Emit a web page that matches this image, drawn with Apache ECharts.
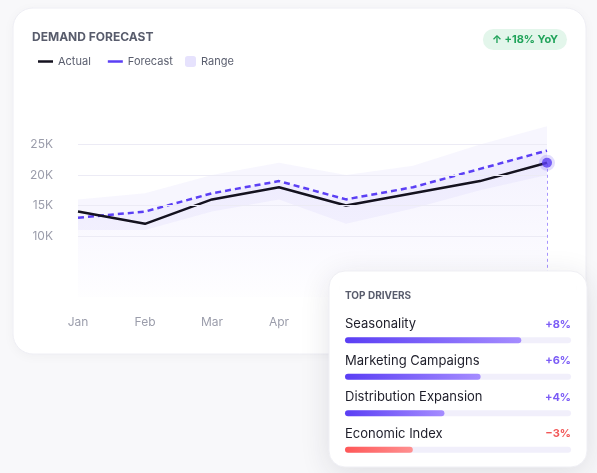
<!DOCTYPE html>
<html>
<head>
<meta charset="utf-8">
<script src="https://cdn.jsdelivr.net/npm/echarts@6/dist/echarts.min.js"></script>
<style>
  html, body { margin: 0; padding: 0; background: #f8f8fa; }
  #chart { width: 597px; height: 473px; }
</style>
</head>
<body>
<div id="chart"></div>
<script>
const months = ["Jan", "Feb", "Mar", "Apr", "May", "Jun", "Jul", "Aug"];
const actual = [14000, 12000, 16000, 18000, 15000, 17000, 19000, 22000];
const forecast = [13000, 14000, 17000, 19000, 16000, 18000, 21000, 24000];
const rangeLow = [11000, 11000, 14000, 16000, 12000, 14500, 17500, 20000];
const rangeHigh = [16000, 17000, 20000, 22000, 20000, 21500, 25000, 28000];
const yTicksShown = [10000, 15000, 20000, 25000];

const drivers = ["Seasonality", "Marketing Campaigns", "Distribution Expansion", "Economic Index"];
const driverDelta = [8, 6, 4, -3];
const driverBar = [78, 60, 44, 30];

const FONT = "Inter";
const last = months.length - 1;
const purple = "#5b3ff5";

const chart = echarts.init(document.getElementById("chart"));

const fillGrad = neg => new echarts.graphic.LinearGradient(0, 0, 1, 0, neg
  ? [{ offset: 0, color: "#ff5757" }, { offset: 1, color: "#ff9090" }]
  : [{ offset: 0, color: "#5a3ef4" }, { offset: 1, color: "#a58cff" }]);

chart.setOption({
  animation: false,
  textStyle: { fontFamily: FONT },
  graphic: [
    {
      type: "rect", z: -10,
      shape: { x: 13, y: 8, width: 573, height: 346, r: 20 },
      style: { fill: "#fff", stroke: "#eeeef4", lineWidth: 1, shadowBlur: 12, shadowColor: "rgba(30,30,60,0.04)", shadowOffsetY: 2 }
    },
    {
      type: "rect", z: 20,
      shape: { x: 329, y: 271, width: 258, height: 196, r: 16 },
      style: { fill: "#fff", stroke: "#efeff4", lineWidth: 1, shadowBlur: 30, shadowColor: "rgba(30,30,60,0.12)", shadowOffsetY: 6 }
    }
  ],
  title: [
    {
      text: "DEMAND FORECAST", left: 32, top: 31, padding: 0,
      textStyle: { fontSize: 12, fontWeight: 700, color: "#585c6c", fontFamily: FONT }
    },
    {
      text: "↑ +18% YoY", right: 30, top: 29, padding: [5, 9],
      backgroundColor: "#e3f6eb", borderRadius: 11,
      textStyle: { fontSize: 11, fontWeight: 700, color: "#20a35a", fontFamily: FONT }
    },
    {
      text: "TOP DRIVERS", left: 345, top: 291, padding: 0, z: 30,
      textStyle: { fontSize: 10, fontWeight: 700, color: "#585c6c", fontFamily: FONT }
    }
  ],
  legend: [
    {
      left: 33, top: 51, icon: "rect", itemWidth: 15, itemHeight: 2.5, itemGap: 17,
      textStyle: { color: "#5a5e6e", fontSize: 11, fontFamily: FONT },
      data: [
        { name: "Actual", itemStyle: { color: "#14121f" } },
        { name: "Forecast", itemStyle: { color: purple } }
      ]
    },
    {
      left: 180, top: 51, icon: "roundRect", itemWidth: 11, itemHeight: 11,
      textStyle: { color: "#5a5e6e", fontSize: 11, fontFamily: FONT },
      data: [{ name: "Range", itemStyle: { color: "#e6e2fd" } }]
    }
  ],
  grid: [
    { left: 78, right: 50, top: 114, bottom: 176 },
    { left: 345, right: 26, top: 322, bottom: 5 }
  ],
  xAxis: [
    {
      gridIndex: 0, type: "category", data: months, boundaryGap: false,
      axisLine: { show: false }, axisTick: { show: false },
      axisLabel: { color: "#9b9dab", fontSize: 12, margin: 19, fontFamily: FONT }
    },
    { gridIndex: 1, type: "value", min: 0, max: 100, show: false }
  ],
  yAxis: [
    {
      gridIndex: 0, type: "value", min: 0, max: 30000, interval: 5000,
      axisLine: { show: false }, axisTick: { show: false },
      axisLabel: {
        color: "#9b9dab", fontSize: 12, margin: 25, fontFamily: FONT,
        formatter: v => yTicksShown.includes(v) ? v / 1000 + "K" : ""
      },
      splitLine: { show: false }
    },
    { gridIndex: 1, type: "category", data: drivers, inverse: true, show: false }
  ],
  series: [
    {
      name: "RangeBase", type: "line", stack: "range", data: rangeLow,
      symbol: "none", lineStyle: { opacity: 0 }, silent: true,
      markLine: {
        symbol: "none", silent: true, label: { show: false },
        lineStyle: { color: "#ecebf5", width: 1, type: "solid" },
        data: yTicksShown.map(v => ({ yAxis: v }))
      }
    },
    {
      name: "Range", type: "line", stack: "range",
      data: rangeHigh.map((v, i) => v - rangeLow[i]),
      symbol: "none", lineStyle: { opacity: 0 }, itemStyle: { color: "#e6e2fd" },
      areaStyle: { color: "rgba(110,85,245,0.08)" }, silent: true
    },
    {
      name: "Forecast", type: "line", data: forecast, symbol: "none",
      lineStyle: { color: purple, width: 2.5, type: [6, 4] },
      itemStyle: { color: purple },
      areaStyle: {
        color: new echarts.graphic.LinearGradient(0, 0, 0, 1, [
          { offset: 0, color: "rgba(110,85,245,0.11)" },
          { offset: 1, color: "rgba(110,85,245,0.01)" }
        ])
      }
    },
    {
      name: "Actual", type: "line", data: actual, symbol: "none",
      lineStyle: { color: "#14121f", width: 2.5 }, itemStyle: { color: "#14121f" },
      markLine: {
        symbol: "none", silent: true, label: { show: false },
        lineStyle: { color: "#a794ff", width: 1, type: [3, 3] },
        data: [[{ coord: [months[last], actual[last]] }, { coord: [months[last], 0] }]]
      }
    },
    {
      name: "Now", type: "scatter", z: 5,
      data: actual.map((v, i) => (i === last ? v : "-")),
      symbolSize: 10,
      itemStyle: { color: purple, borderColor: "rgba(91,63,245,0.22)", borderWidth: 6 }
    },
    {
      name: "Track", type: "bar", xAxisIndex: 1, yAxisIndex: 1, z: 30,
      barWidth: 6, barGap: "-100%", silent: true,
      data: drivers.map((d, i) => ({
        value: 100,
        label: { color: driverDelta[i] < 0 ? "#f25757" : "#7b5cf6" }
      })),
      itemStyle: { color: "#f1effb", borderRadius: 3 },
      label: {
        show: true, position: ["100%", -13], align: "right", verticalAlign: "middle",
        fontSize: 11, fontWeight: 700, fontFamily: FONT,
        formatter: p => (driverDelta[p.dataIndex] > 0 ? "+" : "\u2212") + Math.abs(driverDelta[p.dataIndex]) + "%"
      }
    },
    {
      name: "Drivers", type: "bar", xAxisIndex: 1, yAxisIndex: 1, z: 31,
      barWidth: 6, silent: true,
      data: driverBar.map((v, i) => ({ value: v, itemStyle: { color: fillGrad(driverDelta[i] < 0), borderRadius: 3 } })),
      label: {
        show: true, position: [0, -13], align: "left", verticalAlign: "middle",
        fontSize: 13, color: "#1d1d29", fontFamily: FONT,
        formatter: p => drivers[p.dataIndex]
      }
    }
  ]
});

window.addEventListener("resize", () => chart.resize());
</script>
</body>
</html>
